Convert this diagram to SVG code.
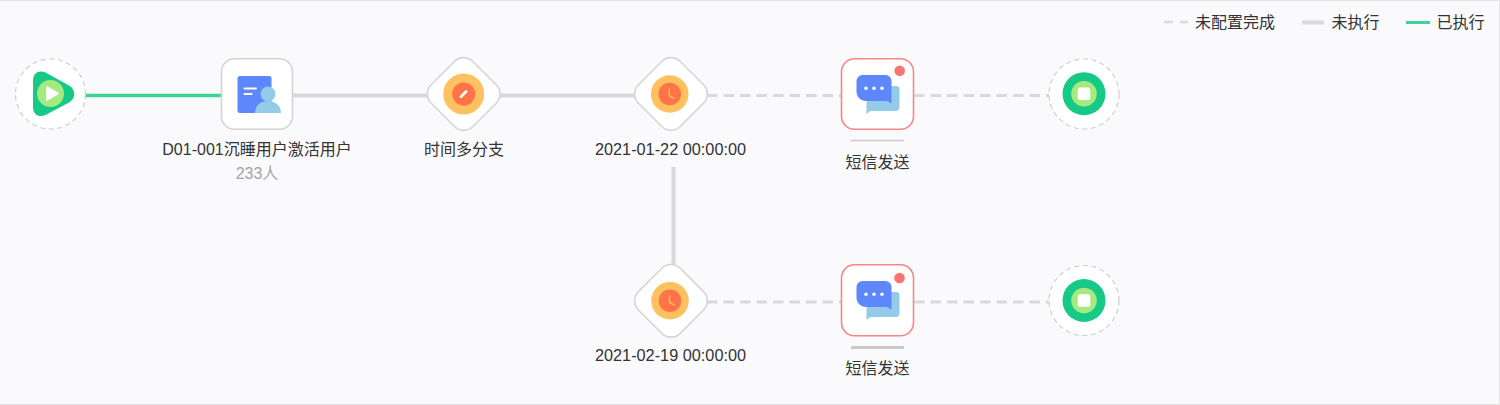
<svg xmlns="http://www.w3.org/2000/svg" xmlns:xlink="http://www.w3.org/1999/xlink" width="1500" height="405" viewBox="0 0 1500 405">
<style>
text{font-family:"Liberation Sans","Noto Sans CJK SC",sans-serif;font-size:16px;fill:#333;text-anchor:middle}
.sub{fill:#a3a3a3}
.leg{text-anchor:start}
.date{font-size:16.300px}
.done{stroke:#3cd595;stroke-width:3.500;fill:none}
.todo{stroke:#d9d9d9;stroke-width:4;fill:none}
.cfg{stroke:#d9d9d9;stroke-width:3;stroke-dasharray:10.500 6;fill:none}
.ring{fill:#fff;stroke:#cfcfcf;stroke-width:1.200;stroke-dasharray:5 3.600}
.box{fill:#fff;stroke:#d4d4d4;stroke-width:1.600}
.alert{fill:#fff;stroke:#fa8585;stroke-width:1.600}
.dia{fill:#fff;stroke:#d6d6d6;stroke-width:1.600}
</style>
<defs>
<g id="clock"><circle r="18.800" fill="#fec160"/><circle r="11.300" fill="#ff7348"/><path d="M-0.500 -5V0Q-0.500 2.500 4 4" fill="none" stroke="#fec160" stroke-width="1.500" stroke-linecap="round"/></g>
<g id="sms"><path d="M5 -10H16A3 3 0 0 1 19 -7V11A4 4 0 0 1 15 15H-10L-14 18V6Z" fill="#93cbe9"/><path d="M-18 -21H5A6 6 0 0 1 11 -15V7.500L6.500 5H-15A9 9 0 0 1 -24 -4V-15A6 6 0 0 1 -18 -21Z" fill="#5d87fb"/><circle cx="-14.500" cy="-7.700" r="1.800" fill="#fff"/><circle cx="-6.500" cy="-7.700" r="1.800" fill="#fff"/><circle cx="1.500" cy="-7.700" r="1.800" fill="#fff"/></g>
<g id="stop"><circle r="21.500" fill="#17c987"/><circle r="12.800" fill="#a6ea7f"/><rect x="-6.300" y="-6.300" width="12.600" height="12.600" rx="2.500" fill="#fff"/></g>
</defs>
<rect width="1500" height="405" fill="#fafafd"/>
<path d="M0 0.500H1499.500V404.500H0" fill="none" stroke="#e3e3e3"/>
<g id="connectors">
<path class="done" d="M86 95.500H222"/>
<path class="todo" d="M293 95.500H428M500 95.500H635"/>
<path class="cfg" d="M707 95.500H841M914 95.500H1049"/>
<path class="todo" d="M673.500 167V265"/>
<path class="cfg" d="M707 302H841M914 302H1049"/>
</g>
<g id="legend">
<path d="M1164 22H1173M1180 22H1188" stroke="#dcdcdc" stroke-width="2.500" fill="none"/><text class="leg" x="1195" y="28">未配置完成</text>
<path d="M1302 22.500H1324" stroke="#d9d9d9" stroke-width="4" fill="none"/><text class="leg" x="1331.500" y="28">未执行</text>
<path d="M1406 22.500H1430" stroke="#3cd595" stroke-width="3" fill="none"/><text class="leg" x="1436.500" y="28">已执行</text>
</g>
<g id="start">
<circle class="ring" cx="50.500" cy="94" r="35"/>
<path d="M33 80.500C33 73 39 69.500 45.500 72.500L69 85.500C76 89.500 76 98.500 69 102.500L45.500 115C39 118 33 114.500 33 107.500Z" fill="#17c987"/>
<circle cx="50.500" cy="93.500" r="13.500" fill="#a6ea7f"/>
<path d="M47 87V100L58 93.500Z" fill="#fff" stroke="#fff" stroke-width="1.500" stroke-linejoin="round"/>
</g>
<g id="audience">
<rect class="box" x="221.500" y="58.700" width="71" height="70.600" rx="13"/>
<rect x="237.500" y="76" width="34" height="37" rx="2.500" fill="#5d87fb"/>
<path d="M244.500 88.500H256M244.500 94H251.500" stroke="#fff" stroke-width="2" stroke-linecap="round" fill="none"/>
<circle cx="268" cy="94" r="7.500" fill="#93cbe9"/>
<path d="M255 113C255 105 261 101 268 101C275 101 281 105 281 113Z" fill="#93cbe9"/>
<text x="257" y="154.500">D01-001沉睡用户激活用户</text>
<text class="sub" x="257" y="178.500">233人</text>
</g>
<g id="branch">
<rect class="dia" x="-29.500" y="-29.500" width="59" height="59" rx="13" transform="translate(463.700 94) rotate(45)"/>
<circle cx="463.700" cy="94" r="20.500" fill="#fec160"/><circle cx="463.700" cy="94" r="11.500" fill="#ff7348"/>
<path d="M461 96.700L466 91.500" stroke="#fff" stroke-width="2.800" stroke-linecap="round"/>
<text x="464" y="154.500">时间多分支</text>
</g>
<g id="time-1">
<rect class="dia" x="-29.500" y="-29.500" width="59" height="59" rx="13" transform="translate(671 94) rotate(45)"/>
<use xlink:href="#clock" href="#clock" x="669.700" y="94"/>
<text class="date" x="670.500" y="155">2021-01-22 00:00:00</text>
</g>
<g id="sms-1">
<rect class="alert" x="841.500" y="58.700" width="72" height="70.600" rx="13"/>
<circle cx="899.700" cy="70.800" r="5.300" fill="#fa7474"/>
<use xlink:href="#sms" href="#sms" x="880.500" y="96"/>
<path d="M850.500 140.500H904" stroke="#cfcfcf" stroke-width="1.300"/>
<text x="877.500" y="167.500">短信发送</text>
</g>
<g id="end-1">
<circle class="ring" cx="1084" cy="94" r="35"/>
<use xlink:href="#stop" href="#stop" x="1084" y="93.700"/>
</g>
<g id="time-2">
<rect class="dia" x="-29.500" y="-29.500" width="59" height="59" rx="13" transform="translate(671 300.800) rotate(45)"/>
<use xlink:href="#clock" href="#clock" x="670" y="300.700"/>
<text class="date" x="670.500" y="361">2021-02-19 00:00:00</text>
</g>
<g id="sms-2">
<rect class="alert" x="841.500" y="264.800" width="72" height="71" rx="13"/>
<circle cx="899.500" cy="278" r="5.300" fill="#fa7474"/>
<use xlink:href="#sms" href="#sms" x="880.500" y="302"/>
<path d="M851 347.500H904" stroke="#c8c8c8" stroke-width="3"/>
<text x="877.500" y="373.500">短信发送</text>
</g>
<g id="end-2">
<circle class="ring" cx="1084" cy="300.500" r="35"/>
<use xlink:href="#stop" href="#stop" x="1084" y="300.500"/>
</g>
</svg>
